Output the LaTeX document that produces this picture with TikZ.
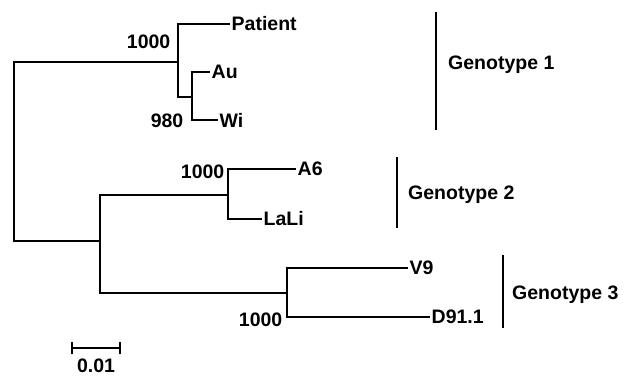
\documentclass[tikz,border=0pt]{standalone}
\usepackage{fontspec}
\setmainfont{Liberation Sans}
\begin{document}
\begin{tikzpicture}[x=1pt,y=-1pt,
  br/.style={line width=2.5pt,line join=miter},
  lbl/.style={font=\fontsize{19.5}{19.5}\selectfont\bfseries},
  leaf/.style={lbl,anchor=west,inner sep=1.5pt},
  boot/.style={lbl,anchor=east,inner sep=1.5pt},
  grp/.style={lbl,anchor=west,inner sep=0pt},
  bar/.style={line width=1.8pt}]
\useasboundingbox (0,0) rectangle (624,380);
% internal nodes
\coordinate (root) at (14,151);
\coordinate (n1) at (178,62);
\coordinate (n2) at (192,97);
\coordinate (n3) at (100,241);
\coordinate (g2) at (228,195);
\coordinate (g3) at (287,293);
% leaves
\node[leaf] (pat) at (230,24) {Patient};
\node[leaf] (au) at (210,72) {Au};
\node[leaf] (wi) at (218,120) {Wi};
\node[leaf] (a6) at (296,169) {A6};
\node[leaf] (lali) at (262,219) {LaLi};
\node[leaf] (v9) at (408,268) {V9};
\node[leaf] (d91) at (430,317) {D91.1};
% branches
\draw[br] (root) |- (n1);
\draw[br] (root) |- (n3);
\draw[br] (n1) |- (pat.west);
\draw[br] (n1) |- (n2);
\draw[br] (n2) |- (au.west);
\draw[br] (n2) |- (wi.west);
\draw[br] (n3) |- (g2);
\draw[br] (n3) |- (g3);
\draw[br] (g2) |- (a6.west);
\draw[br] (g2) |- (lali.west);
\draw[br] (g3) |- (v9.west);
\draw[br] (g3) |- (d91.west);
% bootstrap values
\node[boot] (b1) at (172,42) {1000};
\node[boot] (b2) at (185,121) {980};
\node[boot] (b3) at (226,172) {1000};
\node[boot] (b4) at (284,320) {1000};
% genotype bars
\coordinate (t1) at (436,12);
\coordinate (e1) at (436,130);
\coordinate (t2) at (397,157);
\coordinate (e2) at (397,228);
\coordinate (t3) at (503,255);
\coordinate (e3) at (503,328);
\draw[bar] (t1) -- (e1);
\draw[bar] (t2) -- (e2);
\draw[bar] (t3) -- (e3);
\node[grp] (G1) at (448,65) {Genotype 1};
\node[grp] (G2) at (408,195) {Genotype 2};
\node[grp] (G3) at (512,295) {Genotype 3};
% scale bar
\coordinate (sa) at (72,348);
\coordinate (sb) at (120,348);
\draw[br] (sa) -- (sb);
\draw[line width=1.8pt] ([yshift=-6pt]sa) -- ([yshift=6pt]sa);
\draw[line width=1.8pt] ([yshift=-6pt]sb) -- ([yshift=6pt]sb);
\node[lbl,inner sep=0pt] (sl) at (96,366) {0.01};
\end{tikzpicture}
\end{document}
